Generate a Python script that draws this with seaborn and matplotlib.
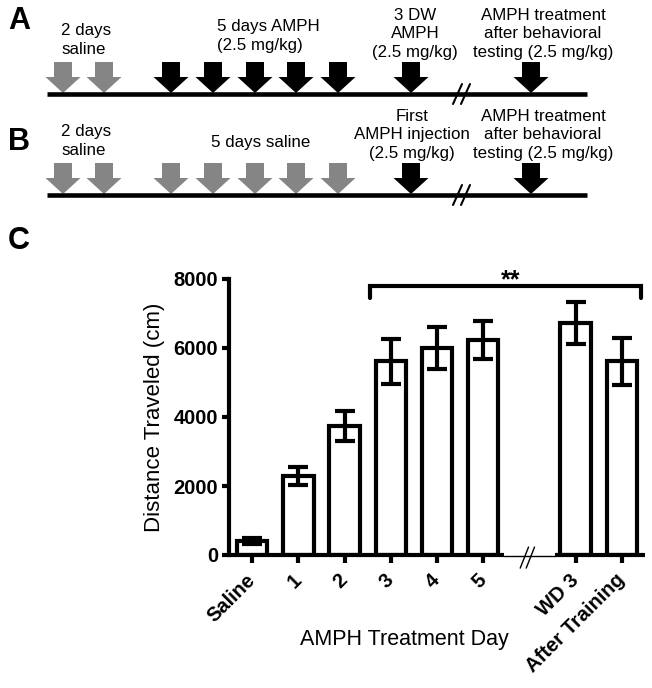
import numpy as np
import pandas as pd
import seaborn as sns
import matplotlib.pyplot as plt
from matplotlib.patches import Polygon

# bar chart data (panel C)
days = ['Saline', '1', '2', '3', '4', '5', 'WD 3', 'After Training']
distance = [400, 2290, 3740, 5620, 6000, 6230, 6720, 5620]
sem = [80, 270, 430, 650, 620, 560, 610, 680]
# empty slot where the x axis is broken
order = ['Saline', '1', '2', '3', '4', '5', '', 'WD 3', 'After Training']

# timelines (panels A and B), x in pixels
arrow_x = [63, 104, 171, 213, 255, 296, 338, 411, 531]
colors_a = ['gray'] * 2 + ['black'] * 7
colors_b = ['gray'] * 7 + ['black'] * 2

# (text, x, last baseline above the timeline, alignment)
labels_a = [('2 days\nsaline', 61, 40, 'left'), ('5 days AMPH\n(2.5 mg/kg)', 217, 44, 'left'),
            ('3 DW\nAMPH\n(2.5 mg/kg)', 415, 37, 'center'),
            ('AMPH treatment\nafter behavioral\ntesting (2.5 mg/kg)', 543, 37, 'center')]
labels_b = [('2 days\nsaline', 61, 40, 'left'), ('5 days saline', 261, 48, 'center'),
            ('First\nAMPH injection\n(2.5 mg/kg)', 412, 37, 'center'),
            ('AMPH treatment\nafter behavioral\ntesting (2.5 mg/kg)', 543, 37, 'center')]

sns.set_theme(style='ticks')
plt.rcParams['font.family'] = ['Liberation Sans', 'DejaVu Sans']
plt.rcParams.update({'text.color': 'black', 'axes.labelcolor': 'black',
                     'xtick.color': 'black', 'ytick.color': 'black',
                     'axes.edgecolor': 'black'})

df = pd.DataFrame({'day': days, 'distance': distance, 'sem': sem})

fig = plt.figure(figsize=(6.52, 6.88), dpi=100)
bg = fig.add_axes([0, 0, 1, 1])
bg.set_xlim(0, 652)
bg.set_ylim(688, 0)
bg.axis('off')

gray = '#858585'


def timeline(y, colors, labels):
    bg.plot([47, 587], [y, y], color='black', lw=3.3, solid_capstyle='butt')
    for x, c in zip(arrow_x, colors):
        c = gray if c == 'gray' else 'black'
        pts = [(x - 9, y - 32), (x + 9, y - 32), (x + 9, y - 17), (x + 17.5, y - 17),
               (x, y - 1), (x - 17.5, y - 17), (x - 9, y - 17)]
        bg.add_patch(Polygon(pts, closed=True, facecolor=c, edgecolor='none'))
    # break marks
    bg.add_patch(Polygon([(455, y + 10), (463, y - 9), (468, y - 9), (460, y + 10)],
                         closed=True, facecolor='white', edgecolor='none'))
    bg.plot([453, 462], [y + 10, y - 10], color='black', lw=1.5)
    bg.plot([461, 470], [y + 10, y - 10], color='black', lw=1.5)
    for txt, x, up, al in labels:
        bg.text(x, y - up, txt, ha=al, va='baseline', multialignment=al,
                fontsize=12.2, linespacing=1.3)


timeline(94, colors_a, labels_a)
timeline(195, colors_b, labels_b)

for letter, yy in [('A', 21), ('B', 142), ('C', 241)]:
    bg.text(19, yy, letter, ha='center', va='center', fontsize=22, fontweight='bold')

# panel C
ax = fig.add_axes([229 / 652, 1 - 555 / 688, 416 / 652, 276 / 688])
sns.barplot(data=df, x='day', y='distance', order=order, color='white', saturation=1,
            edgecolor='black', linewidth=3, width=0.66, errorbar=None, ax=ax)
xpos = [order.index(d) for d in days]
ax.errorbar(xpos, distance, yerr=sem, fmt='none', ecolor='black', elinewidth=3,
            capsize=7, capthick=3)

ax.set_xlim(-0.5, 8.5)
ax.set_ylim(0, 8000)
ax.set_yticks([0, 2000, 4000, 6000, 8000])
ax.set_xticks(xpos)
ax.set_xticklabels(days, rotation=45, ha='right', va='center', rotation_mode='anchor',
                   fontsize=14.5, fontweight='bold')
for lab in ax.get_yticklabels():
    lab.set_fontweight('bold')
ax.tick_params(axis='y', width=3, length=5, labelsize=14.5, pad=3)
ax.tick_params(axis='x', width=3, length=6, pad=10)
sns.despine(ax=ax)
ax.spines['left'].set_linewidth(3)
ax.spines['bottom'].set_visible(False)

# broken x axis
ax.plot([-0.5, 5.45], [0, 0], color='black', lw=3, clip_on=False, solid_capstyle='butt')
ax.plot([6.55, 8.5], [0, 0], color='black', lw=3, clip_on=False, solid_capstyle='butt')
ax.plot([5.45, 6.55], [-40, -40], color='black', lw=1, clip_on=False)
ax.plot([5.80, 5.98], [-380, 230], color='black', lw=1, clip_on=False)
ax.plot([5.93, 6.11], [-380, 230], color='black', lw=1, clip_on=False)

# significance bracket
ax.plot([2.54, 2.54, 8.42, 8.42], [7450, 7800, 7800, 7450], color='black', lw=3,
        clip_on=False, solid_joinstyle='miter')
ax.text(5.6, 7960, '**', ha='center', va='center', fontsize=18, fontweight='bold')

ax.set_ylabel('Distance Traveled (cm)', fontsize=16, labelpad=6)
ax.set_xlabel('')
bg.text(404, 639, 'AMPH Treatment Day', ha='center', va='center', fontsize=15.5)

fig.savefig('out.png', dpi=100)
